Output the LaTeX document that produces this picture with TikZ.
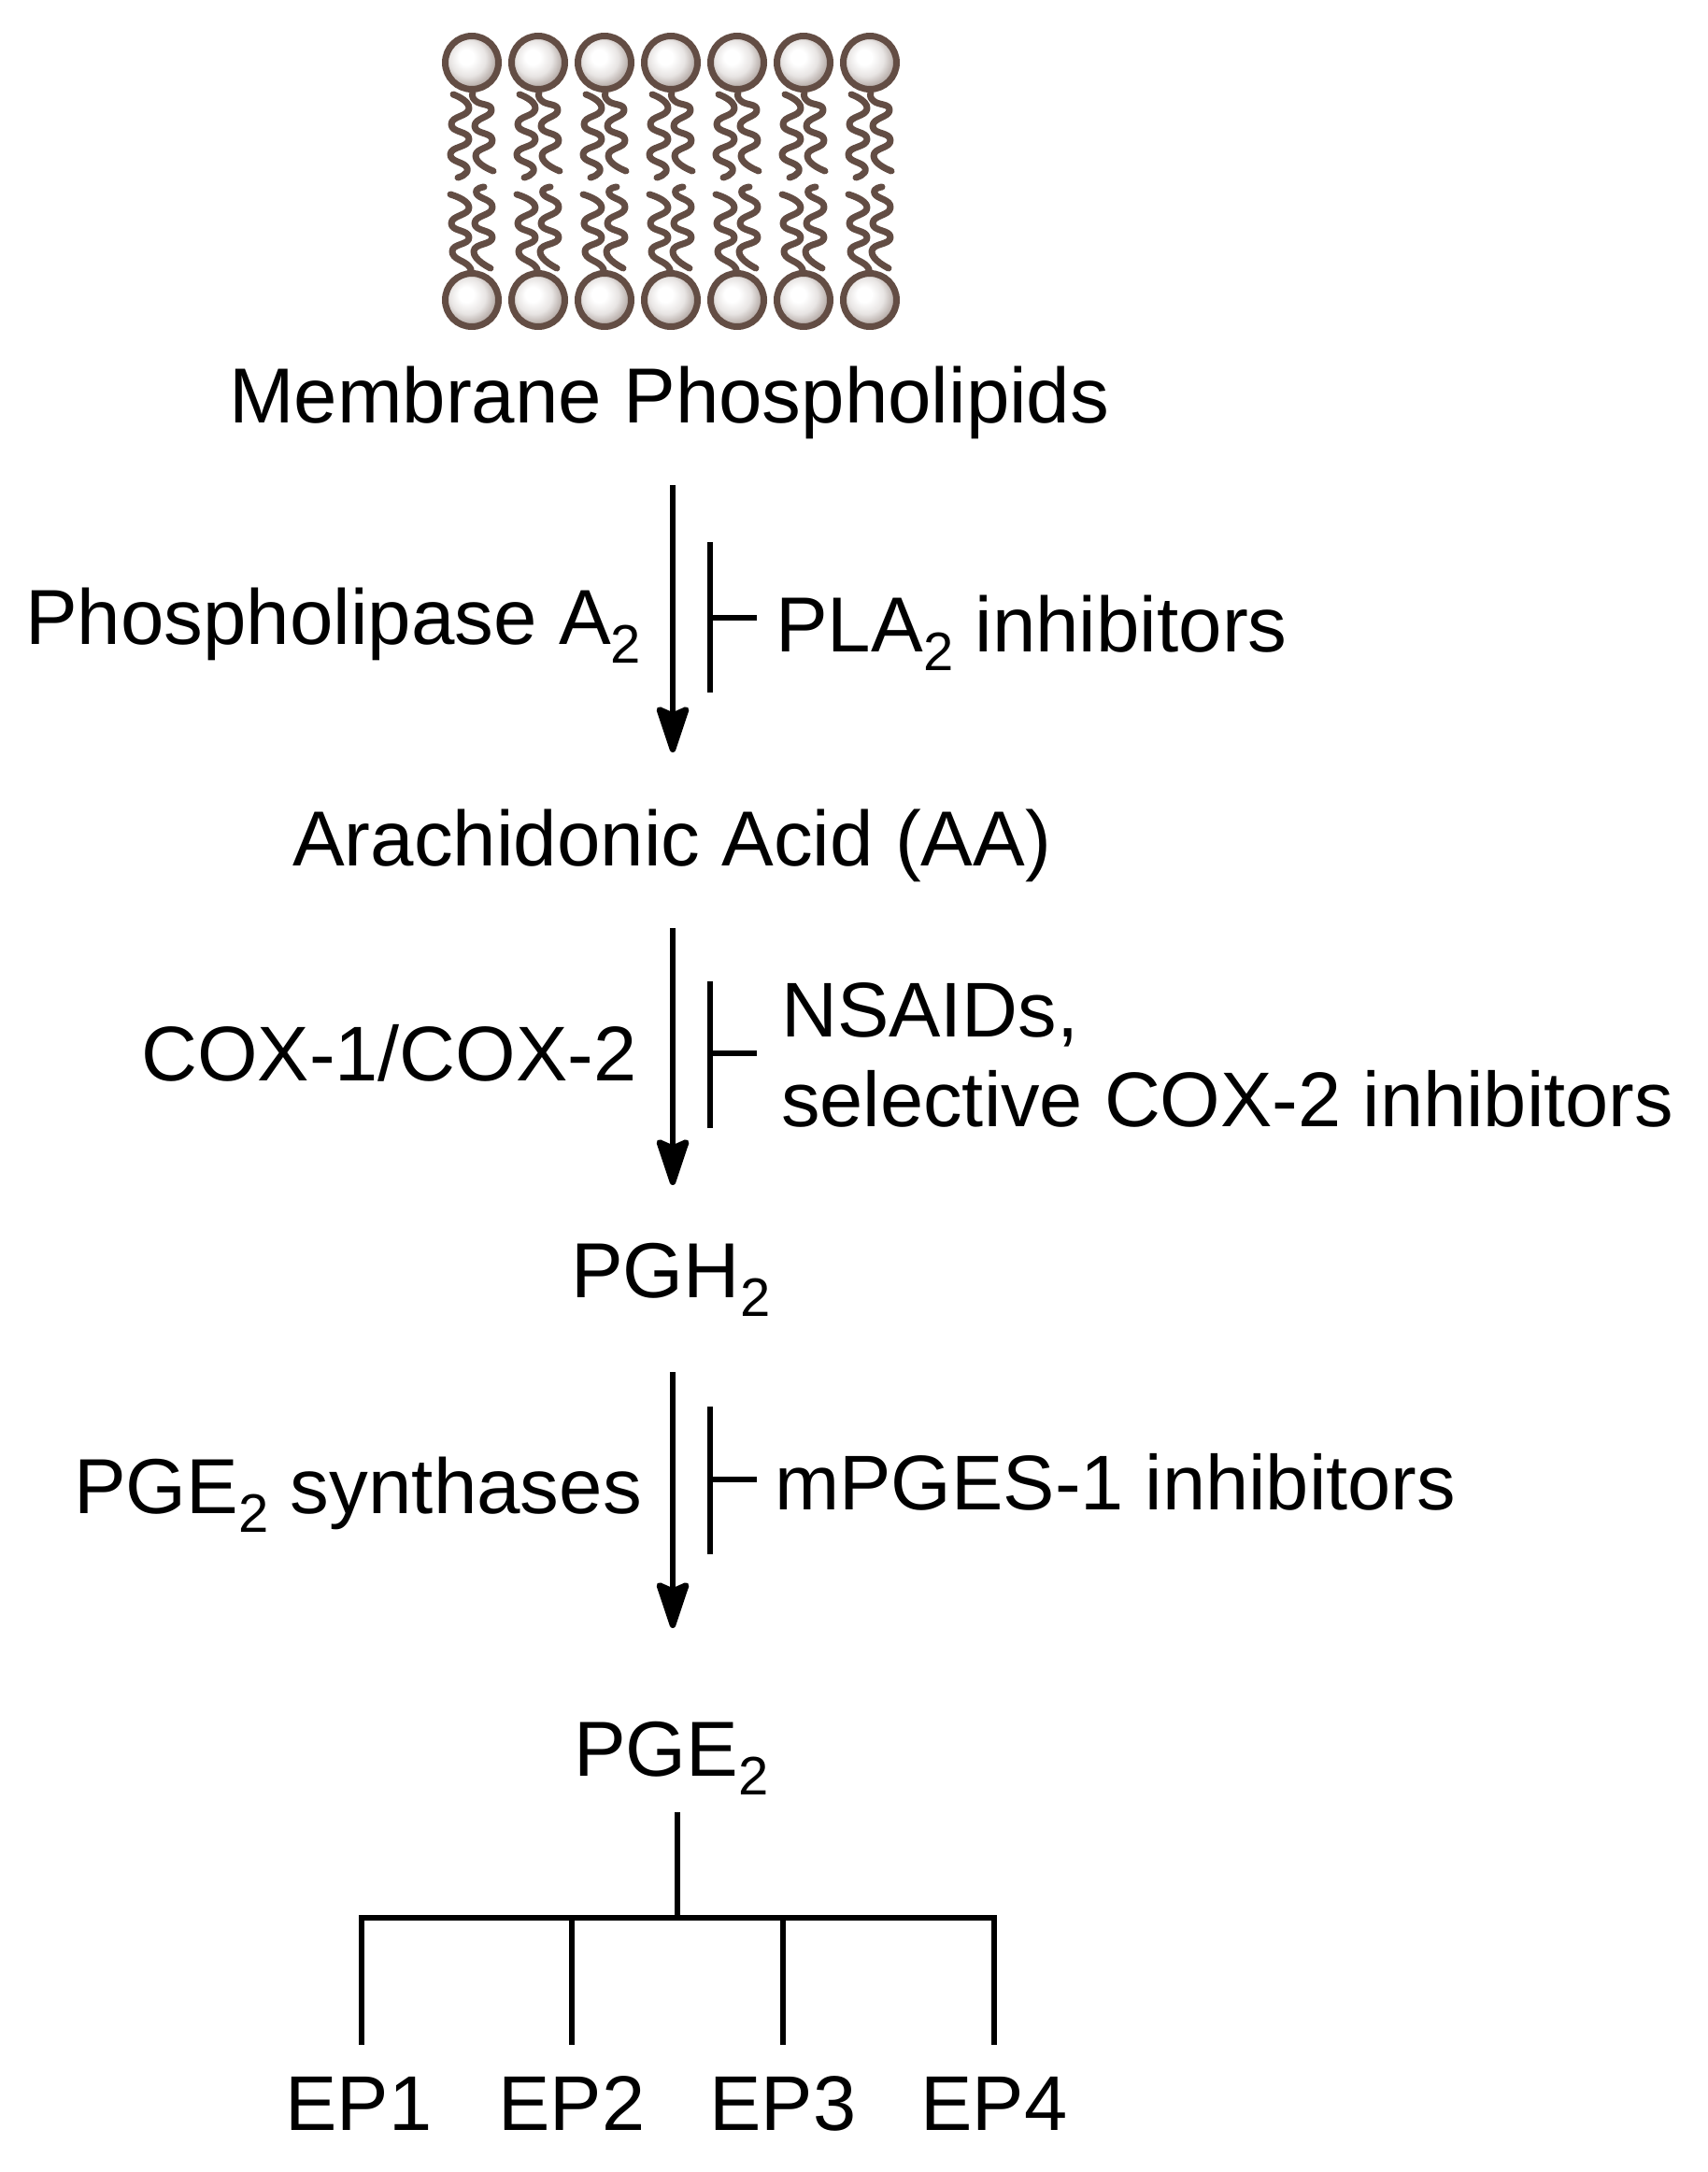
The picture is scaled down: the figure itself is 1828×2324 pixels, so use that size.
\documentclass[tikz,border=0pt]{standalone}
\usepackage{fontspec}
\setmainfont{Liberation Sans}
\usetikzlibrary{arrows.meta}
\definecolor{lipid}{HTML}{634D44}
\pgfdeclareradialshading{headshade}{\pgfpoint{-6bp}{6bp}}{color(0bp)=(white); color(7bp)=(white); color(17bp)=(white!85!lipid); color(25bp)=(white!55!lipid); color(33bp)=(white!30!lipid); color(50bp)=(white!30!lipid)}
\newcommand{\subtwo}{\raisebox{-.24em}{\fontsize{58}{58}\selectfont 2}}
\tikzset{
  lbl/.style={anchor=base west,inner sep=0pt,font=\fontsize{83.5}{100}\selectfont},
  lbltight/.style={lbl,font=\fontsize{83}{100}\selectfont},
  eplbl/.style={anchor=base,inner sep=0pt,font=\fontsize{83}{100}\selectfont},
  flow/.style={line width=6.5pt,-{Stealth[length=58pt,width=38pt,inset=8pt,round]}},
  block/.style={line width=6.5pt},
  tree/.style={line width=6pt},
  tail/.style={line width=7pt,draw=lipid,line cap=round,line join=round},
  headball/.style={circle,minimum size=57pt,inner sep=0pt,line width=7pt,draw=lipid,shading=headshade}
}
\begin{document}
\begin{tikzpicture}[x=1pt,y=-1pt]
\useasboundingbox (0,0) rectangle (1828,2324);
% phospholipids
\foreach \n/\hx in {1/505,2/576,3/647,4/718,5/789,6/860,7/931}{
  \begin{scope}[shift={(\hx,0)}]
    \draw[tail] plot[smooth,tension=1] coordinates {(-20,101) (-3,116) (-22,133) (-3,149) (-23,165) (-5,180) (-15,190)};
    \draw[tail] plot[smooth,tension=1] coordinates {(1,100) (4,108) (21,118) (3,135) (22,150) (4,167) (23,183)};
    \draw[tail] plot[smooth,tension=1] coordinates {(-23,208) (-3,222) (-22,239) (-3,254) (-21,269) (-3,285) (-3,292)};
    \draw[tail] plot[smooth,tension=1] coordinates {(13,200) (5,207) (22,222) (3,239) (22,254) (2,269) (20,287)};
    \node[headball] (top\n) at (0,67) {};
    \node[headball] (bot\n) at (0,321) {};
  \end{scope}
}
% labels
\node[lbl] (mem) at (245,452) {Membrane Phospholipids};
\node[lbl] (pla) at (27,689) {Phospholipase A\subtwo};
\node[lbl] (plai) at (830,697) {PLA\subtwo{} inhibitors};
\node[lbl] (aa) at (313,926) {Arachidonic Acid (AA)};
\node[lbltight] (cox) at (151,1156) {COX-1/COX-2};
\node[lbltight] (nsaid) at (836,1109) {NSAIDs,};
\node[lbltight] (selcox) at (836,1205) {selective COX-2 inhibitors};
\node[lbl] (pgh) at (611,1388) {PGH\subtwo};
\node[lbl] (pges) at (79,1619) {PGE\subtwo{} synthases};
\node[lbltight] (mpges) at (829,1615) {mPGES-1 inhibitors};
\node[lbl] (pge) at (614,1900) {PGE\subtwo};
\node[eplbl] (ep1) at (384,2279) {EP1};
\node[eplbl] (ep2) at (612,2279) {EP2};
\node[eplbl] (ep3) at (838,2279) {EP3};
\node[eplbl] (ep4) at (1064,2279) {EP4};
% arrows
\coordinate (a1s) at (720,519); \coordinate (a1e) at (720,805);
\coordinate (a2s) at (720,993); \coordinate (a2e) at (720,1268);
\coordinate (a3s) at (720,1468); \coordinate (a3e) at (720,1742);
\draw[flow] (a1s) -- (a1e);
\draw[flow] (a2s) -- (a2e);
\draw[flow] (a3s) -- (a3e);
% inhibitors
\coordinate (b1t) at (760,580); \coordinate (b1b) at (760,741); \coordinate (b1m) at (760,661); \coordinate (b1e) at (810,661);
\coordinate (b2t) at (760,1050); \coordinate (b2b) at (760,1207); \coordinate (b2m) at (760,1127); \coordinate (b2e) at (810,1127);
\coordinate (b3t) at (760,1505); \coordinate (b3b) at (760,1663); \coordinate (b3m) at (760,1583); \coordinate (b3e) at (810,1583);
\draw[block] (b1t) -- (b1b); \draw[block] (b1m) -- (b1e);
\draw[block] (b2t) -- (b2b); \draw[block] (b2m) -- (b2e);
\draw[block] (b3t) -- (b3b); \draw[block] (b3m) -- (b3e);
% tree
\coordinate (trt) at (725,1939); \coordinate (trm) at (725,2052);
\coordinate (d1) at (387,2052); \coordinate (d2) at (612,2052); \coordinate (d3) at (838,2052); \coordinate (d4) at (1064,2052);
\coordinate (e1) at (387,2188); \coordinate (e2) at (612,2188); \coordinate (e3) at (838,2188); \coordinate (e4) at (1064,2188);
\draw[tree] (trt) -- (trm);
\draw[tree,line cap=rect] (d1) -- (d4);
\draw[tree] (d1) -- (e1);
\draw[tree] (d2) -- (e2);
\draw[tree] (d3) -- (e3);
\draw[tree] (d4) -- (e4);
\end{tikzpicture}
\end{document}
